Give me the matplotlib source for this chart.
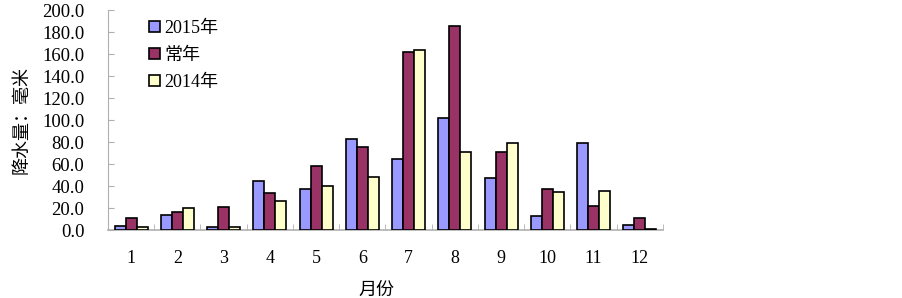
import matplotlib
matplotlib.use("Agg")
import matplotlib.pyplot as plt
import numpy as np
from matplotlib.ticker import FixedLocator

plt.rcParams['font.family'] = ['Liberation Serif', 'Noto Sans CJK SC', 'DejaVu Sans']

months = ['1', '2', '3', '4', '5', '6', '7', '8', '9', '10', '11', '12']
rain_2015 = [3.6, 13.6, 2.4, 44.8, 37.3, 83.0, 64.5, 101.8, 47.0, 12.4, 79.4, 4.8]
rain_normal = [10.9, 16.4, 20.9, 33.6, 58.5, 75.8, 162.0, 186.0, 70.6, 37.3, 22.1, 11.2]
rain_2014 = [2.4, 19.7, 2.4, 26.4, 39.7, 48.5, 163.6, 70.6, 79.4, 34.8, 35.8, 1.0]
series_names = ['2015年', '常年', '2014年']
colors = ['#9999FF', '#993366', '#FFFFCC']

fig = plt.figure(figsize=(9.03, 2.98), dpi=100)
ax = fig.add_axes([0.1196, 0.228, 0.6146, 0.738])

x = np.arange(len(months))
w = 0.237
for k, vals in enumerate([rain_2015, rain_normal, rain_2014]):
    ax.bar(x + (k - 1) * w, vals, width=w, color=colors[k], edgecolor='black',
           linewidth=1.2, label=series_names[k], zorder=3)

ax.set_xlim(-0.5, len(months) - 0.5)
ax.set_ylim(0, 200)
ax.set_yticks(np.arange(0, 201, 20))
ax.set_yticklabels(['%.1f' % v for v in np.arange(0, 201, 20)], fontsize=13.5)
ax.set_xticks(x)
ax.set_xticklabels(months, fontsize=13)
ax.xaxis.set_minor_locator(FixedLocator(np.arange(-0.5, len(months), 1)))

for s in ['top', 'right']:
    ax.spines[s].set_visible(False)
ax.spines['left'].set_color('#B0B0B0')
ax.spines['bottom'].set_color('#B0B0B0')
ax.spines['bottom'].set_linewidth(1.2)
ax.tick_params(axis='y', direction='in', length=4, color='#B0B0B0', pad=17)
ax.tick_params(axis='x', which='major', length=0, pad=14)
ax.tick_params(axis='x', which='minor', direction='in', length=4, color='#B0B0B0')

ax.set_ylabel('降水量：毫米', fontsize=13, family=['Noto Sans CJK SC'], labelpad=8)
ax.set_xlabel('月份', fontsize=13, family=['Noto Sans CJK SC'])
ax.xaxis.set_label_coords(0.483, -0.23)

leg = ax.legend(loc='upper left', bbox_to_anchor=(0.045, 1.03), frameon=False,
                prop={'family': ['Liberation Serif', 'Noto Sans CJK SC'], 'size': 13},
                handlelength=0.6, handleheight=0.6, handletextpad=0.25, labelspacing=0.55)

fig.savefig('out.png', dpi=100)
